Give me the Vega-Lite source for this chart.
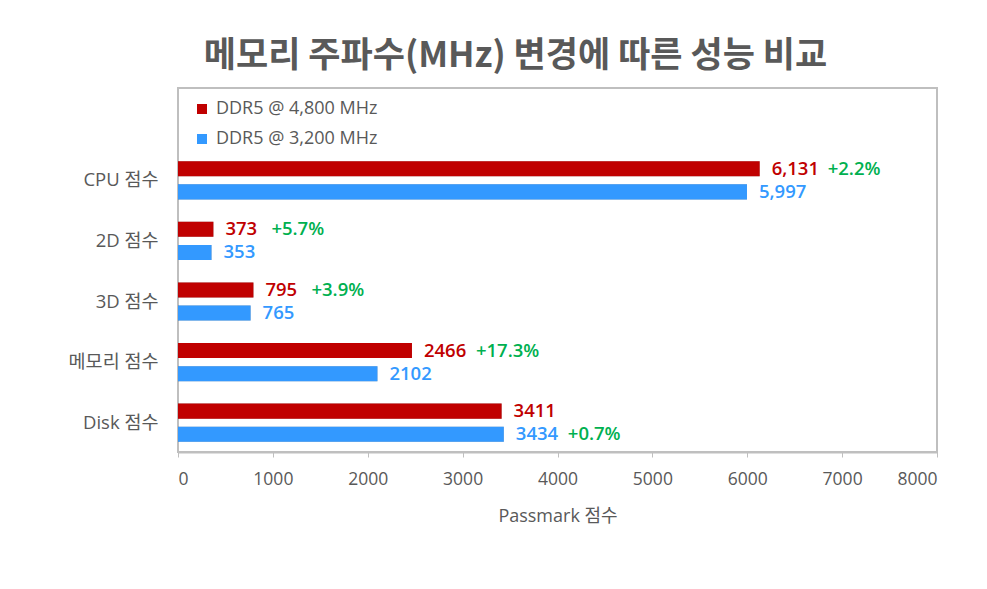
{
  "$schema": "https://vega.github.io/schema/vega-lite/v6.json",
  "width": 759,
  "height": 364,
  "autosize": {"type": "none"},
  "padding": {"left": 178, "top": 88, "right": 50, "bottom": 137},
  "background": "white",
  "title": {
    "text": "메모리 주파수(MHz) 변경에 따른 성능 비교",
    "font": "Noto Sans CJK KR",
    "fontSize": 35,
    "fontWeight": "bold",
    "color": "#595959",
    "anchor": "middle",
    "dx": -42,
    "offset": 14
  },
  "config": {
    "view": {"stroke": "#BFBFBF", "strokeWidth": 2},
    "font": "Open Sans, Noto Sans CJK KR"
  },
  "data": {
    "values": [
      {"category": "CPU 점수", "series": "DDR5 @ 4,800 MHz", "value": 6131, "label": "6,131", "pct": "+2.2%"},
      {"category": "CPU 점수", "series": "DDR5 @ 3,200 MHz", "value": 5997, "label": "5,997", "pct": ""},
      {"category": "2D 점수", "series": "DDR5 @ 4,800 MHz", "value": 373, "label": "373", "pct": "+5.7%"},
      {"category": "2D 점수", "series": "DDR5 @ 3,200 MHz", "value": 353, "label": "353", "pct": ""},
      {"category": "3D 점수", "series": "DDR5 @ 4,800 MHz", "value": 795, "label": "795", "pct": "+3.9%"},
      {"category": "3D 점수", "series": "DDR5 @ 3,200 MHz", "value": 765, "label": "765", "pct": ""},
      {"category": "메모리 점수", "series": "DDR5 @ 4,800 MHz", "value": 2466, "label": "2466", "pct": "+17.3%"},
      {"category": "메모리 점수", "series": "DDR5 @ 3,200 MHz", "value": 2102, "label": "2102", "pct": ""},
      {"category": "Disk 점수", "series": "DDR5 @ 4,800 MHz", "value": 3411, "label": "3411", "pct": ""},
      {"category": "Disk 점수", "series": "DDR5 @ 3,200 MHz", "value": 3434, "label": "3434", "pct": "+0.7%"}
    ]
  },
  "encoding": {
    "y": {
      "field": "category",
      "type": "nominal",
      "sort": ["CPU 점수", "2D 점수", "3D 점수", "메모리 점수", "Disk 점수"],
      "scale": {"range": [62, 365], "paddingInner": 0.37, "paddingOuter": 0.185},
      "axis": {
        "title": null,
        "ticks": false,
        "domain": false,
        "labelFontSize": 18.5,
        "labelColor": "#595959",
        "labelPadding": 20
      }
    },
    "yOffset": {
      "field": "series",
      "type": "nominal",
      "sort": ["DDR5 @ 4,800 MHz", "DDR5 @ 3,200 MHz"],
      "scale": {"paddingInner": 0.35}
    },
    "x": {
      "field": "value",
      "type": "quantitative",
      "stack": null,
      "scale": {"domain": [0, 8000], "nice": false},
      "axis": {
        "values": [0, 1000, 2000, 3000, 4000, 5000, 6000, 7000, 8000],
        "format": "d",
        "grid": false,
        "domainColor": "#BFBFBF",
        "domainWidth": 2,
        "tickColor": "#BFBFBF",
        "tickSize": 5,
        "labelFontSize": 17.5,
        "labelColor": "#595959",
        "labelPadding": 13,
        "title": "Passmark 점수",
        "titleFontSize": 18,
        "titleFontWeight": "normal",
        "titleColor": "#595959",
        "titlePadding": 20
      }
    }
  },
  "layer": [
    {
      "mark": {"type": "bar", "color": "#000000", "opacity": 0.32, "yOffset": 3, "y2Offset": 3, "x2Offset": 2}
    },
    {
      "mark": {"type": "bar"},
      "encoding": {
        "color": {
          "field": "series",
          "type": "nominal",
          "scale": {"domain": ["DDR5 @ 4,800 MHz", "DDR5 @ 3,200 MHz"], "range": ["#C00000", "#3399FF"]},
          "legend": {
            "title": null,
            "orient": "none",
            "legendX": 15,
            "legendY": 12,
            "symbolType": "square",
            "symbolSize": 100,
            "labelFontSize": 18,
            "labelLimit": 400,
            "labelColor": "#595959",
            "labelOffset": 5,
            "rowPadding": 12,
            "padding": 0
          }
        }
      }
    },
    {
      "transform": [{"filter": "datum.pct != '' && length(datum.label) == 3"}],
      "mark": {"type": "text", "align": "left", "baseline": "middle", "dx": 58, "fontSize": 18.5, "fontWeight": 600, "color": "#00B050"},
      "encoding": {"text": {"field": "pct"}}
    },
    {
      "transform": [{"filter": "datum.pct != '' && length(datum.label) == 4"}],
      "mark": {"type": "text", "align": "left", "baseline": "middle", "dx": 64, "fontSize": 18.5, "fontWeight": 600, "color": "#00B050"},
      "encoding": {"text": {"field": "pct"}}
    },
    {
      "transform": [{"filter": "datum.pct != '' && length(datum.label) == 5"}],
      "mark": {"type": "text", "align": "left", "baseline": "middle", "dx": 68, "fontSize": 18.5, "fontWeight": 600, "color": "#00B050"},
      "encoding": {"text": {"field": "pct"}}
    },
    {
      "mark": {"type": "text", "align": "left", "baseline": "middle", "dx": 12, "fontSize": 18.5, "fontWeight": 600},
      "encoding": {
        "text": {"field": "label"},
        "color": {"field": "series", "type": "nominal", "legend": null}
      }
    }
  ]
}
